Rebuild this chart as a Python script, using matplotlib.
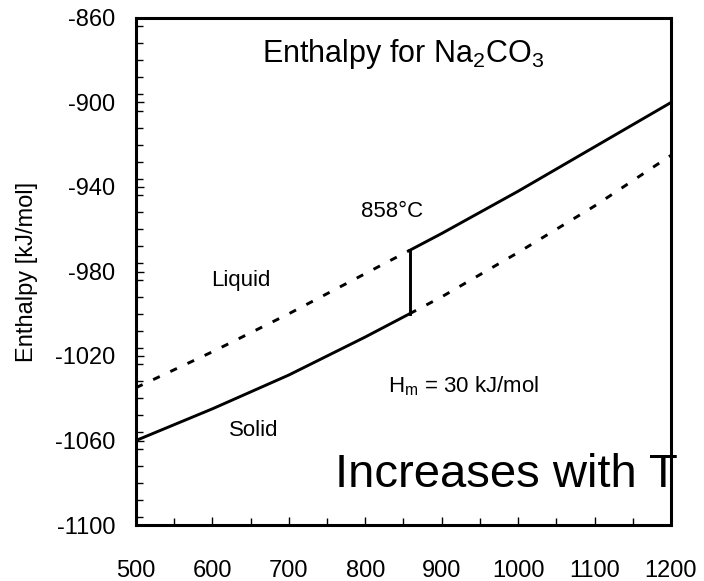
import matplotlib.pyplot as plt
from matplotlib.ticker import MultipleLocator

plt.rcParams['font.family'] = ['Liberation Sans', 'DejaVu Sans']
plt.rcParams['mathtext.fontset'] = 'custom'
plt.rcParams['mathtext.rm'] = 'Liberation Sans'
plt.rcParams['mathtext.it'] = 'Liberation Sans'
plt.rcParams['axes.unicode_minus'] = False

# temperatures (C) and enthalpies (kJ/mol)
temps = [500, 600, 700, 800, 858, 900, 1000, 1100, 1200]
h_solid = [-1060, -1045, -1029, -1011, -1000, -992, -971, -949, -925]
h_liquid = [-1035, -1018, -1000, -981, -970, -962, -942, -921, -900]
t_melt = 858
y_ticks = [-1100, -1060, -1020, -980, -940, -900, -860]

i_m = temps.index(t_melt)

fig = plt.figure(figsize=(7.04, 5.81), dpi=100)
ax = fig.add_axes([136 / 704, 1 - 525 / 581, 535 / 704, 507 / 581])

# stable phase path: solid below melting, jump, liquid above
ax.plot(temps[:i_m + 1], h_solid[:i_m + 1], color='black', lw=2.1)
ax.plot([t_melt, t_melt], [h_solid[i_m], h_liquid[i_m]], color='black', lw=2.1)
ax.plot(temps[i_m:], h_liquid[i_m:], color='black', lw=2.1)
# metastable extensions
ax.plot(temps[:i_m + 1], h_liquid[:i_m + 1], color='black', lw=2.1, ls=(0, (2.5, 4)))
ax.plot(temps[i_m:], h_solid[i_m:], color='black', lw=2.1, ls=(0, (2.5, 4)))

ax.set_xlim(500, 1200)
ax.set_ylim(-1100, -860)
ax.xaxis.set_major_locator(MultipleLocator(100))
ax.xaxis.set_minor_locator(MultipleLocator(50))
ax.set_yticks(y_ticks)
ax.yaxis.set_minor_locator(MultipleLocator(8))
ax.tick_params(which='both', direction='in', top=False, right=False,
               labelsize=17, width=1)
ax.tick_params(axis='x', pad=25)
ax.tick_params(axis='y', pad=15)
ax.tick_params(which='major', length=6)
ax.tick_params(which='minor', length=5)
for s in ax.spines.values():
    s.set_linewidth(2.2)

ax.set_ylabel('Enthalpy [kJ/mol]', fontsize=17, labelpad=12)

ax.text(850, -881, 'Enthalpy for Na$_2$CO$_3$', ha='center', va='baseline',
        fontsize=22)
ax.text(637, -987, 'Liquid', ha='center', va='baseline', fontsize=16)
ax.text(654, -1058, 'Solid', ha='center', va='baseline', fontsize=16)
ax.text(835, -954, '858°C', ha='center', va='baseline', fontsize=16)
ax.text(928, -1037, 'H$_m$ = 30 kJ/mol', ha='center', va='baseline', fontsize=16)
ax.text(1209, -1082, 'Increases with T', ha='right', va='baseline', fontsize=34,
        clip_on=False)

fig.savefig('out.png', dpi=100)
